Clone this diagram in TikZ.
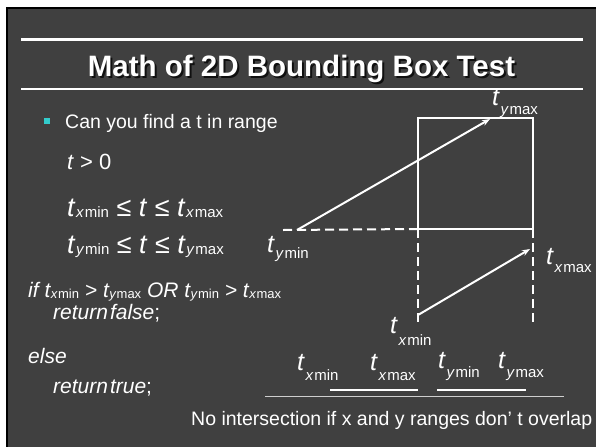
\documentclass[tikz,border=0pt]{standalone}
\usepackage{fontspec}
\setmainfont{Liberation Sans}
\usepackage{tikz}
\usetikzlibrary{arrows.meta}
\definecolor{slidebg}{RGB}{64,64,64}
\definecolor{bulletc}{RGB}{51,204,204}
\newcommand{\subfs}{15}
\newcommand{\tv}[3][1pt]{\textit{t}\kern0.5pt\raisebox{-#1}{\fontsize{\subfs}{\subfs}\selectfont\textit{#2}\kern0.8pt\textup{#3}}}

\begin{document}
\begin{tikzpicture}[x=1pt, y=-1pt, every node/.style={text=white, inner sep=0pt, anchor=base west},
  title/.style={font=\fontsize{29.5}{33}\selectfont\bfseries, anchor=base},
  txt/.style={font=\fontsize{19.5}{23}\selectfont},
  eqn/.style={font=\fontsize{27}{31}\selectfont\def\subfs{15}},
  code/.style={font=\fontsize{21}{25}\selectfont\itshape\def\subfs{13}},
  lbl/.style={font=\fontsize{25}{28}\selectfont\def\subfs{15}},
  edge/.style={line width=2pt, white},
  dashline/.style={edge, dash pattern=on 9pt off 5pt},
  arr/.style={edge, -{Stealth[length=8pt, width=6pt]}}]
  \useasboundingbox (0,0) rectangle (596,447);
  \fill[white] (0,0) rectangle (596,447);
  \fill[black] (6,7) rectangle (596,447);
  \fill[slidebg] (8,9) rectangle (596,447);
  \draw[white, line width=2.5pt] (21,39.5) -- (583,39.5);
  \draw[white, line width=2.5pt] (21,89) -- (583,89);
  \node[title, text=black, opacity=0.75] (titleshadow) at (303.5,78) {Math of 2D Bounding Box Test};
  \node[title] (title) at (301.5,76) {Math of 2D Bounding Box Test};
  \fill[bulletc] (43.5,117.5) rectangle (49.5,123.5);
  \node[txt] (ask) at (65,128) {Can you find a t in range};
  \node[font=\fontsize{22}{26}\selectfont] (pos) at (67,169) {\textit{t} > 0};
  \node[eqn] (rx) at (67,216) {\tv{x}{min} ≤ \textit{t} ≤ \tv{x}{max}};
  \node[eqn] (ry) at (67,253) {\tv{y}{min} ≤ \textit{t} ≤ \tv{y}{max}};
  \node[code] (cif) at (28,297) {if \tv{x}{min} > \tv{y}{max} OR \tv{y}{min} > \tv{x}{max}};
  \node[code] (cfalse) at (53,319) {return\kern2pt false\upshape;};
  \node[code] (celse) at (28,363) {else};
  \node[code] (ctrue) at (53,393) {return\kern2pt true\upshape;};
  \coordinate (tl) at (418,118);
  \coordinate (br) at (533,229);
  \coordinate (bl) at (418,229);
  \coordinate (ds) at (283,230);
  \coordinate (lb) at (418,326);
  \coordinate (rb) at (533,326);
  \coordinate (a1s) at (297,230);
  \coordinate (a1e) at (490,119);
  \coordinate (a2s) at (418,315);
  \coordinate (a2e) at (530,249);
  \draw[edge] (tl) rectangle (br);
  \draw[dashline] (ds) -- (bl);
  \draw[dashline] (bl) -- (lb);
  \draw[dashline] (br) -- (rb);
  \draw[arr] (a1s) -- (a1e);
  \draw[arr] (a2s) -- (a2e);
  \node[lbl] (lymax) at (492,105) {\tv[9pt]{y}{max}};
  \node[lbl] (lymin) at (267,252) {\tv[6pt]{y}{min}};
  \node[lbl] (lxmax) at (546,264) {\tv[8pt]{x}{max}};
  \node[lbl] (lxmin) at (390,333) {\tv[12pt]{x}{min}};
  \node[lbl] (bxmin) at (297,370) {\tv[10pt]{x}{min}};
  \node[lbl] (bxmax) at (370,370) {\tv[10pt]{x}{max}};
  \node[lbl] (bymin) at (438,368) {\tv[9pt]{y}{min}};
  \node[lbl] (bymax) at (498,368) {\tv[9pt]{y}{max}};
  \coordinate (xbl) at (330,390);
  \coordinate (xbr) at (418,390);
  \coordinate (ybl) at (437,390);
  \coordinate (ybr) at (526,390);
  \coordinate (axl) at (265,396);
  \coordinate (axr) at (564,396);
  \draw[edge] (xbl) -- (xbr);
  \draw[edge] (ybl) -- (ybr);
  \draw[white!75!slidebg, line width=1pt] (axl) -- (axr);
  \node[txt] (caption) at (191,425) {No intersection if x and y ranges don’ t overlap};
\end{tikzpicture}
\end{document}
